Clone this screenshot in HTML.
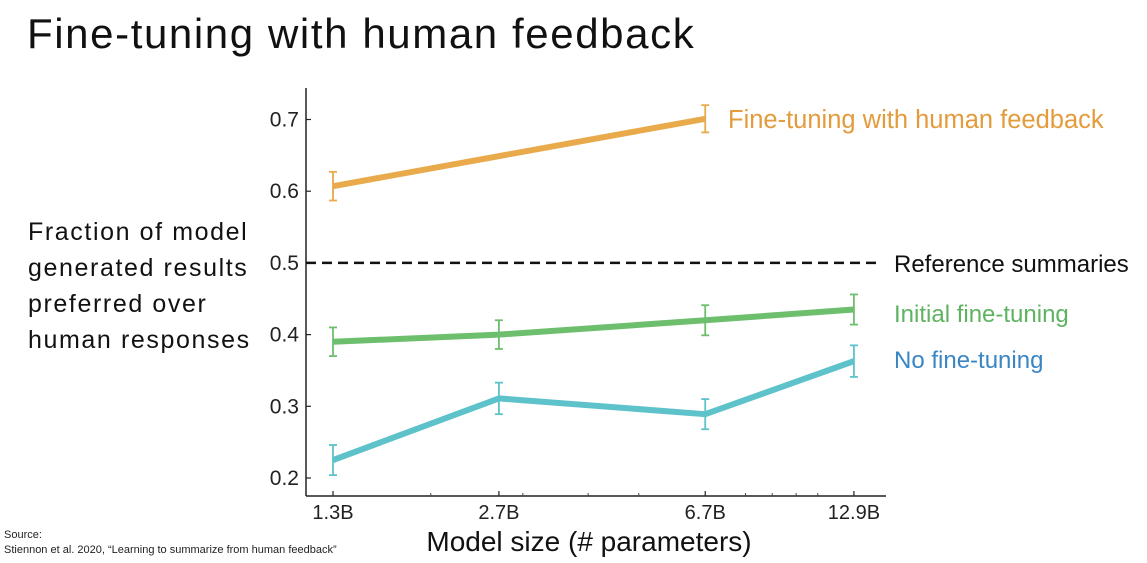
<!DOCTYPE html>
<html><head><meta charset="utf-8">
<style>
html,body{margin:0;padding:0;background:#fff;}
body{width:1147px;height:563px;overflow:hidden;position:relative;font-family:"Liberation Sans",sans-serif;}
#title{position:absolute;left:27px;top:10px;font-size:42px;color:#111;white-space:nowrap;letter-spacing:1.6px;}
#ylab{position:absolute;left:28px;top:214px;font-size:25px;line-height:36px;color:#111;letter-spacing:1.6px;white-space:nowrap;}
#src{position:absolute;left:4px;top:528px;font-size:11px;line-height:15px;color:#222;}
</style></head><body>
<div id="title">Fine-tuning with human feedback</div>
<div id="ylab">Fraction of model<br>generated results<br>preferred over<br>human responses</div>
<div id="src">Source:<br>Stiennon et al. 2020, “Learning to summarize from human feedback”</div>
<svg id="chart" width="1147" height="563" style="position:absolute;left:0;top:0"></svg>
<script>
const categories = ["1.3B","2.7B","6.7B","12.9B"];
const sizes = [1.3,2.7,6.7,12.9];
const yTicks = [0.2,0.3,0.4,0.5,0.6,0.7];
const humanFeedback = [0.607,null,0.701,null];
const humanFeedbackErr = [0.02,null,0.019,null];
const initialFT = [0.390,0.400,0.420,0.435];
const initialFTErr = [0.02,0.02,0.021,0.021];
const noFT = [0.225,0.311,0.289,0.363];
const noFTErr = [0.021,0.022,0.021,0.022];
const referenceLevel = 0.5;

const NS="http://www.w3.org/2000/svg";
const svg=document.getElementById('chart');
const X0=306, YB=496;
function xs(v){return 333+227*(Math.log(v)-Math.log(1.3));}
function ys(v){return 478-(v-0.2)*717;}
function mk(t,a){const e=document.createElementNS(NS,t);for(const k in a)e.setAttribute(k,a[k]);svg.appendChild(e);return e;}

let e=mk('line',{x1:X0,y1:88,x2:X0,y2:YB,stroke:'#222','stroke-width':1.5});


e=mk('line',{x1:X0,y1:YB,x2:886,y2:YB,stroke:'#222','stroke-width':1.5});



yTicks.forEach(t=>{
  const y=ys(t);
  let l=mk('line',{x1:X0,y1:y,x2:X0+5,y2:y,stroke:'#222','stroke-width':1.2});
  
  
  let tx=mk('text',{x:X0-7,y:y+7,'text-anchor':'end','font-size':21,fill:'#222'});
  tx.textContent=t.toFixed(1);
  
  
});
categories.forEach((c,i)=>{
  const x=xs(sizes[i]);
  let l=mk('line',{x1:x,y1:YB,x2:x,y2:YB-5,stroke:'#222','stroke-width':1.2});
  
  
  let tx=mk('text',{x:x,y:519,'text-anchor':'middle','font-size':20,fill:'#222'});
  tx.textContent=c;
  
  
});
[2,3,4,5,8,9,10,11].forEach(v=>{
  let l=mk('line',{x1:xs(v),y1:YB,x2:xs(v),y2:YB-3,stroke:'#444','stroke-width':1});
  
  
});
let xt=mk('text',{x:589,y:551,'text-anchor':'middle','font-size':28,fill:'#111'});
xt.textContent='Model size (# parameters)';



let ref=mk('line',{x1:X0,y1:ys(referenceLevel),x2:880,y2:ys(referenceLevel),stroke:'#111','stroke-width':2.5,'stroke-dasharray':'10,6'});



function series(vals,errs,color,name){
  const pts=[];
  vals.forEach((v,i)=>{if(v!==null)pts.push([xs(sizes[i]),ys(v),errs[i]]);});
  let p=mk('polyline',{points:pts.map(p=>p[0]+','+p[1]).join(' '),fill:'none',stroke:color,'stroke-width':6,'stroke-linejoin':'round'});
  
  
  vals.forEach((v,i)=>{
    if(v===null)return;
    const x=xs(sizes[i]),y1=ys(v-errs[i]),y2=ys(v+errs[i]);
    const g=mk('g',{stroke:color,'stroke-width':1.8});
    
    
    [[x,y1,x,y2],[x-4,y1,x+4,y1],[x-4,y2,x+4,y2]].forEach(c=>{
      const l=document.createElementNS(NS,'line');
      l.setAttribute('x1',c[0]);l.setAttribute('y1',c[1]);l.setAttribute('x2',c[2]);l.setAttribute('y2',c[3]);
      g.appendChild(l);
    });
  });
}
series(humanFeedback,humanFeedbackErr,'#E9AA4C','human-feedback');
series(initialFT,initialFTErr,'#6DBF6E','initial-fine-tuning');
series(noFT,noFTErr,'#5DC2CA','no-fine-tuning');

function label(txt,x,y,color,name,fs){
  const t=mk('text',{x:x,y:y,'font-size':fs,fill:color});
  t.textContent=txt;
  
  
}
label('Fine-tuning with human feedback',728,128,'#E39B3C','label-human-feedback',25.5);
label('Reference summaries',894,272,'#111','label-reference',24);
label('Initial fine-tuning',894,322,'#5DB35F','label-initial-fine-tuning',24);
label('No fine-tuning',894,368,'#3A86C4','label-no-fine-tuning',24);
</script>
</body></html>
